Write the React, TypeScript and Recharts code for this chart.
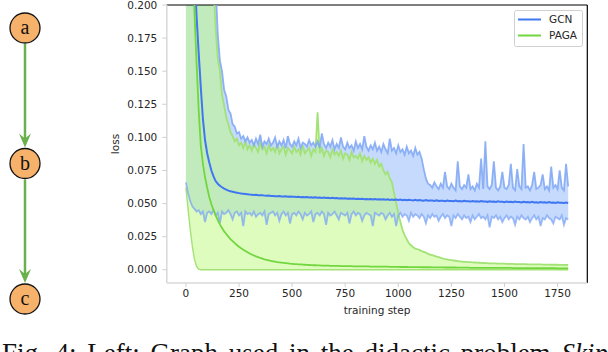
import { ComposedChart, Area, Line, XAxis, YAxis, ReferenceLine, Legend } from 'recharts'

// training curves, sampled every 10 steps, values in units of 0.001
const STEP = 10

const gcnMean = [
  620, 470, 360, 285, 230, 192, 164, 138, 114, 98,
  88, 81, 75, 70.5, 67, 65, 63.5, 62.3, 61.3, 60.5,
  59.8, 59.3, 58.9, 58.5, 58.2, 57.9, 57.6, 57.4, 57.2, 57.0,
  56.8, 56.7, 56.5, 56.6, 56.3, 56.2, 56.3, 56.0, 55.9, 56.0,
  55.7, 55.8, 55.6, 55.5, 55.7, 55.4, 55.3, 55.5, 55.2, 55.3,
  55.1, 55.2, 55.0, 55.1, 54.8, 55.0, 54.7, 54.9, 54.6, 54.8,
  54.5, 54.7, 54.4, 54.6, 54.3, 54.5, 54.2, 54.4, 54.1, 54.3,
  54.0, 54.2, 53.9, 54.1, 53.8, 54.0, 53.7, 53.9, 53.6, 53.8,
  53.5, 53.7, 53.4, 53.6, 53.3, 53.5, 53.2, 53.5, 53.1, 53.4,
  53.1, 53.3, 53.0, 53.2, 52.9, 53.2, 52.8, 53.1, 52.8, 53.0,
  52.7, 53.0, 52.6, 52.9, 52.5, 52.8, 52.6, 52.4, 52.8, 52.3,
  52.6, 52.4, 52.2, 52.6, 52.1, 52.4, 52.3, 52.0, 52.5, 51.9,
  52.2, 52.1, 51.8, 52.3, 51.9, 52.0, 51.7, 52.2, 51.8, 51.9,
  51.6, 52.1, 51.7, 51.8, 51.5, 52.0, 51.6, 51.7, 51.4, 51.9,
  51.5, 51.6, 51.3, 51.8, 51.4, 51.5, 51.2, 51.7, 51.3, 51.4,
  51.1, 51.6, 51.2, 51.3, 51.0, 51.5, 51.1, 51.2, 50.9, 51.4,
  51.0, 51.1, 50.8, 51.3, 50.9, 51.0, 50.7, 51.2, 50.8, 50.9,
  50.6, 51.1, 50.7, 50.8, 50.5, 51.0, 50.6, 50.7, 50.4, 50.8,
  50.5
]

const gcnHi = [
  400, 400, 400, 400, 400, 400, 400, 400, 400, 400,
  400, 400, 400, 400, 215, 178, 158, 150, 136, 131,
  121, 118, 110, 108, 103, 104, 99, 101, 97, 100,
  96, 98, 94, 99, 95, 102, 93, 97, 95, 99,
  94, 96, 100, 93, 97, 94, 98, 92, 101, 95,
  93, 97, 94, 99, 92, 96, 95, 93, 98, 94,
  96, 93, 97, 92, 103, 95, 92, 96, 93, 98,
  91, 95, 92, 100, 93, 91, 96, 92, 94, 90,
  97, 92, 95, 91, 101, 93, 90, 94, 91, 96,
  90, 93, 89, 95, 91, 88, 99, 90, 92, 88,
  94, 89, 91, 87, 93, 88, 90, 86, 92, 87,
  89, 84, 76, 69, 65, 64, 62, 66, 63, 61,
  65, 62, 74, 63, 61, 65, 62, 60, 82, 63,
  61, 64, 62, 72, 61, 63, 60, 65, 62, 84,
  61, 97, 63, 61, 64, 82, 62, 60, 63, 74,
  62, 61, 64, 80, 62, 60, 76, 63, 61, 95,
  62, 63, 60, 64, 74, 61, 62, 64, 72, 61,
  63, 60, 78, 62, 64, 61, 75, 62, 60, 80,
  63
]

const gcnLo = [
  66, 58, 52, 48, 46, 44, 45, 42, 44, 36,
  43, 44, 42, 45, 41, 43, 35, 44, 42, 43,
  45, 42, 38, 43, 44, 41, 43, 33, 44, 42,
  43, 41, 44, 40, 42, 43, 41, 44, 34, 42,
  43, 44, 41, 43, 37, 42, 44, 41, 43, 35,
  42, 43, 41, 44, 42, 38, 43, 41, 42, 44,
  36, 42, 43, 41, 44, 42, 34, 43, 41, 42,
  44, 41, 38, 43, 42, 41, 43, 35, 42, 44,
  41, 43, 42, 37, 41, 43, 42, 41, 33, 43,
  42, 41, 43, 42, 38, 41, 43, 40, 42, 33,
  41, 43, 40, 42, 41, 37, 43, 40, 42, 41,
  39, 42, 40, 35, 41, 39, 42, 40, 41, 37,
  40, 42, 39, 41, 40, 33, 41, 39, 42, 40,
  38, 41, 39, 40, 36, 41, 38, 40, 42, 39,
  40, 38, 41, 32, 40, 39, 41, 38, 40, 36,
  39, 41, 38, 40, 39, 34, 40, 38, 41, 39,
  38, 40, 36, 39, 41, 38, 40, 33, 39, 38,
  41, 39, 38, 35, 40, 39, 38, 41, 34, 39,
  38
]

const pagaMean = [
  700, 480, 340, 255, 196, 157, 121, 94, 80, 70,
  62, 55, 49.5, 45, 41, 37.5, 34.3, 31.5, 29, 27,
  25, 23.2, 21.6, 20.1, 18.7, 17.4, 16.2, 15.1, 14.1, 13.2,
  12.3, 11.5, 10.8, 10.1, 9.5, 8.9, 8.4, 7.9, 7.5, 7.1,
  6.7, 6.4, 6.1, 5.8, 5.6, 5.4, 5.2, 5.0, 4.8, 4.6,
  4.5, 4.3, 4.2, 4.1, 4.0, 3.9, 3.8, 3.7, 3.6, 3.5,
  3.4, 3.4, 3.3, 3.3, 3.2, 3.2, 3.1, 3.1, 3.0, 3.0,
  2.9, 2.9, 2.9, 2.8, 2.8, 2.8, 2.7, 2.7, 2.7, 2.6,
  2.6, 2.6, 2.6, 2.5, 2.5, 2.5, 2.5, 2.4, 2.4, 2.4,
  2.4, 2.3, 2.3, 2.3, 2.3, 2.3, 2.2, 2.2, 2.2, 2.2,
  2.2, 2.1, 2.1, 2.1, 2.1, 2.0, 2.0, 2.0, 2.0, 2.0,
  2.0, 1.9, 1.9, 1.9, 1.9, 1.9, 1.8, 1.8, 1.8, 1.8,
  1.8, 1.8, 1.7, 1.7, 1.7, 1.7, 1.7, 1.7, 1.6, 1.6,
  1.6, 1.6, 1.6, 1.6, 1.5, 1.5, 1.5, 1.5, 1.5, 1.5,
  1.5, 1.4, 1.4, 1.4, 1.4, 1.4, 1.4, 1.4, 1.4, 1.4,
  1.4, 1.4, 1.4, 1.4, 1.3, 1.3, 1.3, 1.3, 1.3, 1.3,
  1.3, 1.3, 1.2, 1.2, 1.2, 1.2, 1.2, 1.2, 1.2, 1.2,
  1.2, 1.2, 1.2, 1.2, 1.2, 1.1, 1.1, 1.1, 1.1, 1.1,
  1.1
]

const pagaHi = [
  400, 400, 400, 400, 400, 400, 400, 400, 400, 400,
  400, 400, 400, 215, 182, 160, 150, 132, 124, 115,
  110, 104, 101, 97, 99, 94, 96, 92, 97, 91,
  94, 90, 95, 92, 89, 96, 91, 93, 88, 94,
  90, 92, 89, 95, 88, 91, 93, 87, 92, 90,
  88, 93, 89, 91, 87, 94, 88, 90, 92, 86,
  91, 89, 119, 88, 92, 86, 90, 89, 85, 91,
  87, 89, 86, 90, 84, 88, 87, 83, 89, 85,
  86, 84, 88, 82, 86, 83, 85, 81, 84, 80,
  83, 78, 80, 75, 72, 74, 69, 66, 58, 50,
  43, 36, 30, 26, 23, 20, 18.5, 17, 16, 15.5,
  15, 14, 13.5, 13, 12, 11.5, 11, 10.5, 10, 9.5,
  9, 8.5, 8, 7.8, 7.5, 7.2, 7, 6.8, 6.6, 6.4,
  6.2, 6, 5.9, 5.8, 5.7, 5.6, 5.5, 5.4, 5.3, 5.2,
  5.1, 5, 5, 4.9, 4.9, 4.8, 4.8, 4.7, 4.7, 4.6,
  4.6, 4.5, 4.5, 4.4, 4.4, 4.3, 4.3, 4.3, 4.2, 4.2,
  4.2, 4.1, 4.1, 4.1, 4.0, 4.0, 4.0, 4.0, 3.9, 3.9,
  3.9, 3.9, 3.8, 3.8, 3.8, 3.8, 3.7, 3.7, 3.7, 3.7,
  3.6
]

const pagaLo = [
  62, 46, 31, 18, 8, 2.5, 0.5, 0, 0, 0,
  0, 0, 0, 0, 0, 0, 0, 0, 0, 0,
  0, 0, 0, 0, 0, 0, 0, 0, 0, 0,
  0, 0, 0, 0, 0, 0, 0, 0, 0, 0,
  0, 0, 0, 0, 0, 0, 0, 0, 0, 0,
  0, 0, 0, 0, 0, 0, 0, 0, 0, 0,
  0, 0, 0, 0, 0, 0, 0, 0, 0, 0,
  0, 0, 0, 0, 0, 0, 0, 0, 0, 0,
  0, 0, 0, 0, 0, 0, 0, 0, 0, 0,
  0, 0, 0, 0, 0, 0, 0, 0, 0, 0,
  0, 0, 0, 0, 0, 0, 0, 0, 0, 0,
  0, 0, 0, 0, 0, 0, 0, 0, 0, 0,
  0, 0, 0, 0, 0, 0, 0, 0, 0, 0,
  0, 0, 0, 0, 0, 0, 0, 0, 0, 0,
  0, 0, 0, 0, 0, 0, 0, 0, 0, 0,
  0, 0, 0, 0, 0, 0, 0, 0, 0, 0,
  0, 0, 0, 0, 0, 0, 0, 0, 0, 0,
  0, 0, 0, 0, 0, 0, 0, 0, 0, 0,
  0
]

const xTicks = [0, 250, 500, 750, 1000, 1250, 1500, 1750]
const yTicks = [0, 0.025, 0.05, 0.075, 0.1, 0.125, 0.15, 0.175, 0.2]
const seriesNames = ['GCN', 'PAGA']
const graphNodes = ['a', 'b', 'c']

const BLUE = '#3f76f2'
const GREEN = '#72d63f'
const tickStyle = { fontSize: 10.5, fill: '#262626', fontFamily: 'DejaVu Sans' }

const chartData = gcnMean.map((_, i) => ({
  step: i * STEP,
  gcnMean: gcnMean[i] / 1000,
  gcnHi: gcnHi[i] / 1000,
  gcnLo: gcnLo[i] / 1000,
  gcnBand: [gcnLo[i] / 1000, gcnHi[i] / 1000],
  pagaMean: pagaMean[i] / 1000,
  pagaHi: pagaHi[i] / 1000,
  pagaLo: pagaLo[i] / 1000,
  pagaBand: [pagaLo[i] / 1000, pagaHi[i] / 1000]
}))

const LossLegend = ({ payload }: { payload?: Array<{ value: string; color: string; type?: string }> }) => {
  const items = (payload || []).filter(p => p.type !== 'none')
  return (
    <svg width={70} height={38} style={{ display: 'block' }}>
      <rect x={0.5} y={0.5} width={68} height={36} rx={2} fill="#fff" fillOpacity={0.8} stroke="#d0d0d0" />
      {items.map((p, i) => (
        <g key={p.value}>
          <line x1={4} x2={27} y1={9.5 + i * 16} y2={9.5 + i * 16} stroke={p.color} strokeWidth={2} />
          <text x={35} y={9.5 + i * 16} dy="0.36em" fontSize={10.5} fontFamily="DejaVu Sans" fill="#262626">
            {p.value}
          </text>
        </g>
      ))}
    </svg>
  )
}

// left panel: the a -> b -> c chain
const ChainGraph = () => {
  const cx = 25
  const r = 15
  const cy = (i: number) => 28 + i * 135.5
  return (
    <svg width={60} height={352} style={{ position: 'absolute', left: 0, top: 0 }}>
      {graphNodes.slice(1).map((_, i) => {
        const tip = cy(i + 1) - r - 1
        return (
          <g key={i}>
            <line x1={cx} x2={cx} y1={cy(i) + r + 1} y2={tip - 6} stroke="#6ab04c" strokeWidth={2.5} />
            <path d={`M ${cx} ${tip} L ${cx - 6} ${tip - 14} L ${cx} ${tip - 9} L ${cx + 6} ${tip - 14} Z`} fill="#6ab04c" />
          </g>
        )
      })}
      {graphNodes.map((n, i) => (
        <g key={n}>
          <circle cx={cx} cy={cy(i)} r={r} fill="#f6b26b" stroke="#111" strokeWidth={1.3} />
          <text x={cx} y={cy(i)} dy="0.3em" textAnchor="middle" fontFamily="Liberation Serif" fontSize={20} fill="#111">
            {n}
          </text>
        </g>
      ))}
    </svg>
  )
}

export default function App() {
  return (
    <div style={{ position: 'absolute', left: 0, top: 0, width: 608, height: 352, background: '#fff', overflow: 'hidden' }}>
      <ComposedChart
        width={608}
        height={352}
        data={chartData}
        margin={{ top: 5, right: 20.7, bottom: 38, left: 116.8 }}
      >
        <XAxis
          dataKey="step"
          type="number"
          domain={[-90, 1890]}
          ticks={xTicks}
          tick={tickStyle}
          tickSize={4}
          tickMargin={3}
          height={31}
          axisLine={{ stroke: '#d8d8d8', strokeWidth: 1.5 }}
          tickLine={{ stroke: '#d0d0d0' }}
          allowDataOverflow
          label={{
            content: () => (
              <text x={377} y={314} textAnchor="middle" fontSize={10.5} fontFamily="DejaVu Sans" fill="#262626">
                training step
              </text>
            )
          }}
        />
        <YAxis
          type="number"
          domain={[-0.01, 0.2]}
          ticks={yTicks}
          tickFormatter={(v: number) => v.toFixed(3)}
          tick={tickStyle}
          tickSize={4.5}
          tickMargin={5}
          width={50}
          axisLine={{ stroke: '#d8d8d8', strokeWidth: 1.5 }}
          tickLine={{ stroke: '#d0d0d0' }}
          allowDataOverflow
          label={{
            content: () => (
              <text x={119} y={144} transform="rotate(-90 119 144)" textAnchor="middle" fontSize={10.5} fontFamily="DejaVu Sans" fill="#262626">
                loss
              </text>
            )
          }}
        />
        <ReferenceLine y={0.2} stroke="#000" strokeWidth={1.2} />
        <ReferenceLine x={1890} stroke="#000" strokeWidth={1.2} />

        <Area dataKey="gcnBand" type="linear" stroke="none" fill="#4f8ff7" fillOpacity={0.33} legendType="none" isAnimationActive={false} activeDot={false} />
        <Area dataKey="pagaBand" type="linear" stroke="none" fill="#bdf97d" fillOpacity={0.5} legendType="none" isAnimationActive={false} activeDot={false} />

        <Line dataKey="pagaHi" type="linear" stroke="#a3e277" strokeWidth={1.8} dot={false} activeDot={false} legendType="none" isAnimationActive={false} />
        <Line dataKey="pagaLo" type="linear" stroke="#a3e277" strokeWidth={1.4} dot={false} activeDot={false} legendType="none" isAnimationActive={false} />
        <Line dataKey="gcnHi" type="linear" stroke="#7ea6f5" strokeOpacity={0.85} strokeWidth={1.8} dot={false} activeDot={false} legendType="none" isAnimationActive={false} />
        <Line dataKey="gcnLo" type="linear" stroke="#7ea6f5" strokeOpacity={0.75} strokeWidth={1.8} dot={false} activeDot={false} legendType="none" isAnimationActive={false} />

        <Line dataKey="gcnMean" name={seriesNames[0]} type="linear" stroke={BLUE} strokeWidth={2} dot={false} activeDot={false} isAnimationActive={false} />
        <Line dataKey="pagaMean" name={seriesNames[1]} type="linear" stroke={GREEN} strokeWidth={1.8} dot={false} activeDot={false} isAnimationActive={false} />

        <Legend
          layout="horizontal"
          verticalAlign="middle"
          align="center"
          content={<LossLegend />}
          wrapperStyle={{ left: 514, top: 10, width: 70, height: 38 }}
        />
      </ComposedChart>

      <ChainGraph />

      <svg width={608} height={352} style={{ position: 'absolute', left: 0, top: 0, pointerEvents: 'none' }}>
        <text x={2} y={362} fontFamily="Liberation Serif" fontSize={27} wordSpacing={4} fill="#111">
          Fig. 4: Left: Graph used in the didactic problem <tspan fontStyle="italic">Skip</tspan>
        </text>
      </svg>
    </div>
  )
}
